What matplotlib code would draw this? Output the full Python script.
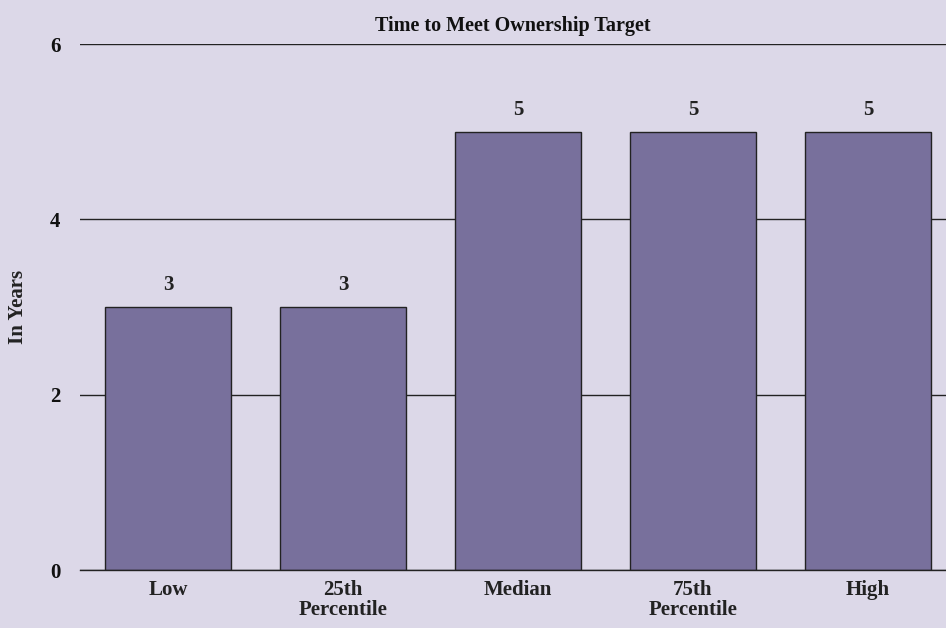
import matplotlib
matplotlib.use("Agg")
import matplotlib.pyplot as plt

categories = ["Low", "25th\nPercentile", "Median", "75th\nPercentile", "High"]
values = [3, 3, 5, 5, 5]
yticks = [0, 2, 4, 6]

bg = "#DCD8E8"
bar_color = "#78709C"

plt.rcParams['font.family'] = ['Liberation Serif', 'DejaVu Serif']
plt.rcParams['font.weight'] = 'bold'

fig = plt.figure(figsize=(9.46, 6.28), dpi=100, facecolor=bg)
ax = fig.add_axes([80/946, 58/628, 1 - 80/946, (570-44)/628])
ax.set_facecolor(bg)

x = list(range(len(categories)))
bars = ax.bar(x, values, width=0.72, color=bar_color, edgecolor="#222222", linewidth=1.0, zorder=3)
for xi, v in zip(x, values):
    ax.text(xi, v + 0.25, str(v), ha="center", va="center", fontsize=15, fontweight="bold", color="#222222")

ax.set_xlim(-0.503, 4.446)
ax.set_ylim(0, 6)
ax.set_yticks(yticks)
ax.set_yticklabels([str(t) for t in yticks], fontsize=15, fontweight="bold", color="#111111")
ax.set_xticks(x)
ax.set_xticklabels(categories, fontsize=15, fontweight="bold", color="#222222", linespacing=1.0)
ax.tick_params(axis="both", length=0)
ax.tick_params(axis="y", pad=14)
ax.tick_params(axis="x", pad=7)
ax.yaxis.grid(True, color="#222222", linewidth=1.0, zorder=0)
ax.set_axisbelow(True)
for s in ["top", "right", "left"]:
    ax.spines[s].set_visible(False)
ax.spines["bottom"].set_color("#222222")
ax.spines["bottom"].set_linewidth(1.0)
ax.spines["bottom"].set_zorder(4)

ax.set_title("Time to Meet Ownership Target", fontsize=14.5, fontweight="bold", color="#111111", pad=9)
fig.text(18/946, 1 - 307/628, "In Years", rotation=90, ha="center", va="center", fontsize=15, fontweight="bold", color="#222222")

fig.savefig("out.png", dpi=100, facecolor=bg)
